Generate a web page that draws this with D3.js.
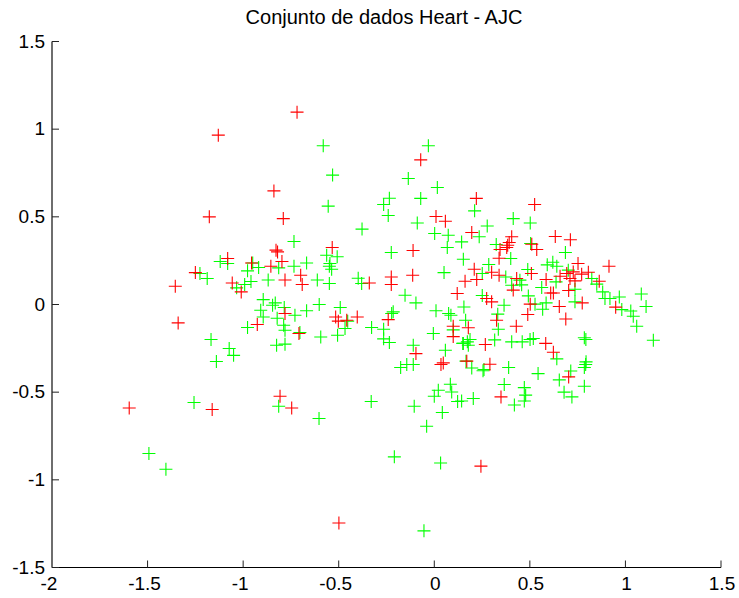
<!DOCTYPE html>
<html><head><meta charset="utf-8">
<script src="https://cdn.jsdelivr.net/npm/d3@7/dist/d3.min.js"></script>
<style>html,body{margin:0;padding:0;background:#fff}svg{display:block}text{font-family:"Liberation Sans",Arial,sans-serif;fill:#000}</style>
</head><body><svg id="c" width="739" height="598"></svg>
<script>
const chartTitle="Conjunto de dados Heart - AJC";
const xTicks=[-2,-1.5,-1,-0.5,0,0.5,1,1.5];
const yTicks=[-1.5,-1,-0.5,0,0.5,1,1.5];
const greenPoints=[[-0.734,0.359],[-1.12,0.245],[-1.081,0.234],[-0.95,0.237],[-0.919,0.211],[-0.814,0.209],[-0.734,0.218],[-0.977,0.192],[-1.226,0.177],[-1.188,0.148],[-0.959,0.131],[-0.992,0.114],[-1.034,0.095],[-0.869,0.14],[-0.895,0.028],[-0.832,0.009],[-0.846,-0.004],[-0.908,-0.033],[-0.785,-0.017],[-0.895,-0.071],[-0.822,-0.078],[-0.729,-0.061],[-0.788,-0.118],[-0.977,-0.131],[-0.781,-0.147],[-1.168,-0.2],[-1.073,-0.251],[-0.825,-0.232],[-0.781,-0.226],[-1.05,-0.29],[-1.14,-0.325],
[-0.581,0.905],[-0.031,0.905],[-0.532,0.738],[-0.136,0.719],[0.016,0.667],[-0.235,0.606],[-0.265,0.57],[-0.071,0.605],[-0.555,0.561],[-0.241,0.508],[-0.089,0.465],[-0.378,0.43],[0.002,0.405],[0.073,0.395],[0.143,0.357],[0.068,0.325],[-0.225,0.297],[-0.563,0.281],[-0.508,0.272],[0.152,0.258],
[0.211,0.534],[0.413,0.49],[0.502,0.465],[0.277,0.448],[0.235,0.386],[0.324,0.342],[0.504,0.348],[0.686,0.297],[0.4,0.262],[0.285,0.228],[0.251,0.177],[0.374,0.157],[0.489,0.2],[0.591,0.226],[0.62,0.241],[0.641,0.218],[0.701,0.196],[0.637,0.129],[0.824,0.148],[0.85,0.116],[0.448,0.139],[0.405,0.11],[0.457,0.112],[0.562,0.097],[0.736,0.087],[0.881,0.072],[0.893,0.034],[0.919,0.034],[0.968,0.043],[1.083,0.06],[0.492,0.049],[0.251,0.051],[0.365,-0.004],[0.736,0.015],[0.585,0.009],[0.527,0.002],[0.567,-0.027],[0.155,-0.014],[0.981,-0.029],[1.108,-0.011],[1.028,-0.037],[1.041,-0.067],[1.059,-0.124],[0.164,-0.09],[0.332,-0.055],[0.335,-0.141],[1.146,-0.204],[0.785,-0.19],[0.793,-0.2],[0.152,-0.222],[0.187,-0.2],[0.178,-0.232],[0.316,-0.202],[0.405,-0.213],[0.46,-0.213],[0.501,-0.2],[0.518,-0.194],[0.641,-0.31],[0.794,-0.327],[0.792,-0.342],[0.785,-0.359],[0.389,-0.359],[0.543,-0.394],[0.714,-0.379],[0.654,-0.43],[0.166,-0.323],[0.196,-0.362],[0.26,-0.371],[0.255,-0.378],[0.366,-0.456],[0.471,-0.474],[0.785,-0.466],[0.478,-0.517],[0.679,-0.5],[0.72,-0.527],[0.471,-0.55],[0.204,-0.536],[0.419,-0.573],[0.143,-0.55],
[-0.668,0.237],[-0.549,0.218],[-0.546,0.234],[-0.537,0.201],[-0.612,0.14],[-0.549,0.12],[-0.398,0.15],[-0.38,0.12],[0.051,0.182],[-0.153,0.053],[-0.096,0.009],[0.009,-0.036],[0.075,-0.051],[0.087,-0.061],[-0.602,0],[-0.668,-0.036],[-0.492,-0.017],[-0.453,-0.095],[-0.467,-0.137],[-0.506,-0.175],[-0.594,-0.185],[-0.703,-0.16],[-0.328,-0.131],[-0.215,-0.042],[-0.223,-0.051],[-0.265,-0.141],[-0.265,-0.196],[-0.235,-0.217],[-0.11,-0.232],[-0.005,-0.165],[0.099,-0.145],[0.149,-0.222],[0.173,-0.213],[0.058,-0.261],[-0.11,-0.342],[-0.144,-0.342],[-0.176,-0.359],[0.084,-0.455],[0.021,-0.489],[0.091,-0.499],[0,-0.523],[0.122,-0.553],[-0.105,-0.58],[-0.33,-0.553],[0.042,-0.616],[-0.603,-0.65],
[-0.04,-0.694],[-0.209,-0.869],[0.033,-0.904],[-0.054,-1.291],[-1.257,-0.559],[-0.814,-0.58],[-1.493,-0.85],[-1.404,-0.94]];
const redPoints=[[-0.718,1.097],[-1.13,0.966],[-0.839,0.648],[-1.177,0.5],[-0.79,0.49],[-0.828,0.31],[-0.82,0.3],[-1.081,0.262],[-0.956,0.237],[-0.855,0.218],[-0.797,0.245],[-1.25,0.182],[-1.355,0.104],[-1.057,0.123],[-1.01,0.072],[-0.781,0.14],[-0.781,-0.051],[-0.926,-0.114],[-1.34,-0.105],[-0.708,-0.165],
[-0.071,0.825],[0.009,0.502],[0.058,0.475],[-0.534,0.325],[-0.111,0.308],
[0.22,0.605],[0.525,0.57],[0.196,0.411],[0.633,0.388],[0.712,0.369],[0.405,0.386],[0.392,0.354],[0.384,0.338],[0.379,0.325],[0.344,0.314],[0.51,0.344],[0.536,0.314],[0.339,0.264],[0.209,0.201],[0.3,0.184],[0.339,0.167],[0.508,0.177],[0.752,0.234],[0.914,0.218],[0.727,0.186],[0.806,0.184],[0.771,0.173],[0.658,0.161],[0.693,0.177],[0.585,0.143],[0.71,0.148],[0.736,0.135],[0.863,0.133],[0.431,0.148],[0.161,0.133],[0.222,0.143],[0.413,0.082],[0.703,0.08],[0.609,0.066],[0.623,0.066],[0.274,0.034],[0.3,0.015],[0.502,0.002],[0.774,0.009],[0.654,-0.011],[0.949,-0.015],[0.489,-0.057],[0.688,-0.083],[0.326,-0.09],[0.178,-0.133],[0.429,-0.124],[0.267,-0.228],[0.583,-0.222],[0.623,-0.272],[0.703,-0.413],[0.291,-0.341],[0.17,-0.323],[0.349,-0.527],
[-0.699,0.167],[-0.691,0.114],[-0.34,0.123],[-0.225,0.157],[-0.225,0.114],[-0.113,0.167],[0.12,0.063],[-0.516,-0.071],[-0.502,-0.095],[-0.458,-0.09],[-0.403,-0.071],[-0.241,-0.086],[-0.096,-0.28],[0.099,-0.124],[0.099,-0.183],[0.035,-0.342],[0.047,-0.333],
[-1.596,-0.59],[-1.162,-0.599],[-0.807,-0.523],[-0.746,-0.59],[0.244,-0.922],[-0.499,-1.246]];

const plot={left:52,right:721,top:41.5,bottom:567.5};
const x=d3.scaleLinear().domain([-2,1.5]).range([plot.left,plot.right]);
const y=d3.scaleLinear().domain([-1.5,1.5]).range([plot.bottom,plot.top]);
const svg=d3.select("#c");
const gx=svg.append("g").attr("transform",`translate(0,${plot.bottom})`)
 .call(d3.axisBottom(x).offset(0).tickValues(xTicks).tickSizeInner(-7).tickSizeOuter(0).tickPadding(9).tickFormat(v=>String(v)));
const gy=svg.append("g").attr("transform",`translate(${plot.left},0)`)
 .call(d3.axisLeft(y).offset(0).tickValues(yTicks).tickSizeInner(-7).tickSizeOuter(0).tickPadding(7).tickFormat(v=>String(v)));
[gx,gy].forEach(g=>{
 g.selectAll("text").attr("font-size",19).attr("font-family",'"Liberation Sans",Arial,sans-serif');
 g.selectAll("line").attr("stroke","#222").attr("stroke-width",1);
});
gx.selectAll(".tick text").attr("dx",d=>d<0?-3:1);
gx.select(".domain").attr("stroke","#000").attr("stroke-width",1);
gy.select(".domain").attr("stroke","#6e6e6e").attr("stroke-width",2);
svg.append("text").attr("x",384).attr("y",24.3).attr("text-anchor","middle").attr("font-size",20).attr("fill","#111").text(chartTitle);
const arm=6.5;
function plus(g,data,color){
 g.selectAll("path").data(data).join("path")
  .attr("d",d=>`M${x(d[0])-arm},${y(d[1])}h${2*arm}M${x(d[0])},${y(d[1])-arm}v${2*arm}`)
  .attr("fill","none").attr("stroke",color).attr("stroke-width",1.1);
}
plus(svg.append("g"),greenPoints,"#00ff00");
plus(svg.append("g"),redPoints,"#ff0000");
</script></body></html>
